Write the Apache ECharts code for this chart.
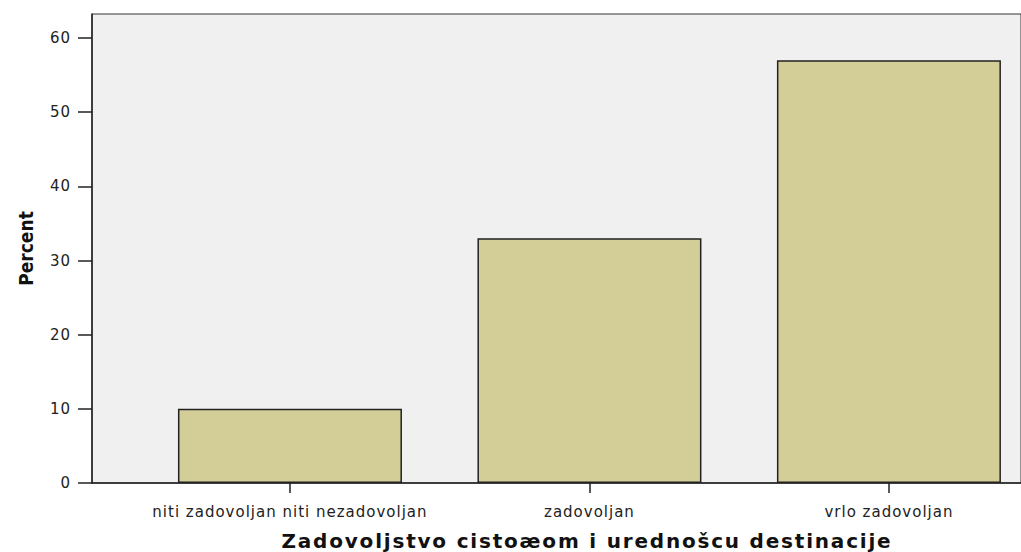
<!DOCTYPE html>
<html>
<head>
<meta charset="utf-8">
<script src="https://cdn.jsdelivr.net/npm/echarts@6/dist/echarts.min.js"></script>
<style>html,body{margin:0;padding:0;background:#fff;}#c{width:1021px;height:552px;}</style>
</head>
<body>
<div id="c"></div>
<script>
const categories = ['niti zadovoljan niti nezadovoljan', 'zadovoljan', 'vrlo zadovoljan'];
const percentValues = [10, 33, 57];
const yTickValues = [0, 10, 20, 30, 40, 50, 60];
const xAxisTitle = 'Zadovoljstvo cistoæom i urednošcu destinacije';
const yAxisTitle = 'Percent';

const chart = echarts.init(document.getElementById('c'), null, { renderer: 'svg' });
const idx = categories.map((_, i) => i);
const tickFont = 'DejaVu Sans, Liberation Sans, sans-serif';
chart.setOption({
  animation: false,
  backgroundColor: '#ffffff',
  grid: {
    left: 92, right: 0, top: 14, bottom: 69,
    outerBoundsMode: 'none', containLabel: false,
    show: true, backgroundColor: '#f0f0f0', borderColor: '#333', borderWidth: 1
  },
  xAxis: {
    type: 'value',
    min: -0.661, max: 2.441,
    splitLine: { show: false },
    axisLine: { show: true, onZero: false, lineStyle: { color: '#222', width: 1.5 } },
    axisTick: { show: true, customValues: idx, length: 10, lineStyle: { color: '#222', width: 1.5 } },
    axisLabel: {
      customValues: idx, margin: 21, color: '#222', fontSize: 15,
      fontFamily: tickFont,
      formatter: v => categories[Math.round(v)] || ''
    },
    name: xAxisTitle, nameLocation: 'middle', nameGap: 48,
    nameTextStyle: { fontSize: 20, fontWeight: 'bold', color: '#111', fontFamily: 'DejaVu Sans, sans-serif', padding: [0, 0, 0, 61] }
  },
  yAxis: {
    type: 'value', min: 0, max: 63.25,
    splitLine: { show: false },
    axisLine: { show: true, onZero: false, lineStyle: { color: '#222', width: 1.5 } },
    axisTick: { show: true, customValues: yTickValues, length: 14, lineStyle: { color: '#222', width: 1.5 } },
    axisLabel: { customValues: yTickValues, margin: 21, color: '#222', fontSize: 15, fontFamily: tickFont },
    name: yAxisTitle, nameLocation: 'middle', nameGap: 57, nameRotate: 90,
    nameTextStyle: { fontSize: 19, fontWeight: 'bold', color: '#111', fontFamily: 'DejaVu Sans Condensed, Liberation Sans Narrow, Liberation Sans, sans-serif' }
  },
  series: [{
    type: 'bar',
    data: percentValues.map((v, i) => [i, v]),
    barWidth: 224,
    itemStyle: { color: '#d3cd98', borderColor: '#222', borderWidth: 1.5 }
  }]
});
// widen letter spacing of texts like the reference's bitmap font
document.querySelectorAll('#c text').forEach(t => {
  const s = t.textContent;
  if (s === xAxisTitle) t.style.letterSpacing = '1.8px';
  else if (s !== yAxisTitle) t.style.letterSpacing = '1px';
});
</script>
</body>
</html>
